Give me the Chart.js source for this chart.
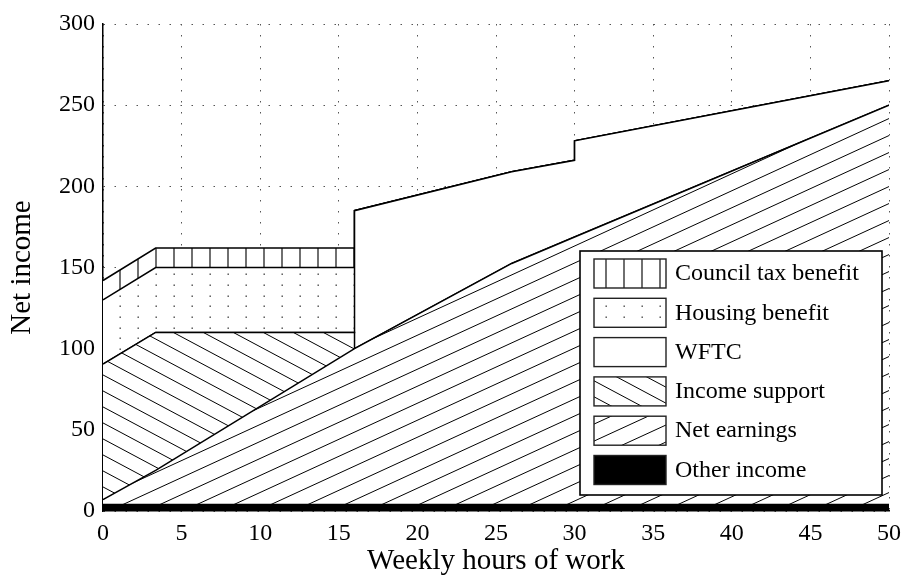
<!DOCTYPE html>
<html>
<head>
<meta charset="utf-8">
<script src="https://cdn.jsdelivr.net/npm/chart.js@4.4.1/dist/chart.umd.min.js"></script>
<style>
  html, body { margin: 0; padding: 0; background: #fff; }
</style>
</head>
<body>
<canvas id="incomeChart" width="901" height="579"></canvas>
<script>
// hours of work at which the schedule changes (16 and 30 appear twice: vertical steps)
const hours = [0, 3.35, 16, 16, 26, 30, 30, 50];

// size of each income component (stacked bottom to top)
const otherIncome    = [4, 4, 4, 4, 4, 4, 4, 4];
const netEarnings    = [3, 21, 96, 96, 148.5, 164.8, 164.8, 246];
const incomeSupport  = [83.5, 85, 10, 0, 0, 0, 0, 0];
const wftc           = [0, 0, 0, 85, 56.5, 47.2, 59.2, 15];
const housingBenefit = [39.5, 40, 40, 0, 0, 0, 0, 0];
const councilTax     = [12, 12, 12, 0, 0, 0, 0, 0];

const seriesNames = ['Other income', 'Net earnings', 'Income support', 'WFTC', 'Housing benefit', 'Council tax benefit'];
const seriesValues = [otherIncome, netEarnings, incomeSupport, wftc, housingBenefit, councilTax];

const xTicks = [0, 5, 10, 15, 20, 25, 30, 35, 40, 45, 50];
const yTicks = [0, 50, 100, 150, 200, 250, 300];

const FONT = "'Liberation Serif', 'Times New Roman', serif";

const canvas = document.getElementById('incomeChart');
const ctx = canvas.getContext('2d');

function makePattern(w, h, draw) {
  const c = document.createElement('canvas');
  c.width = w;
  c.height = h;
  const g = c.getContext('2d');
  g.fillStyle = '#fff';
  g.fillRect(0, 0, w, h);
  g.strokeStyle = '#000';
  g.fillStyle = '#000';
  g.lineWidth = 1;
  draw(g, w, h);
  return ctx.createPattern(c, 'repeat');
}

// vertical bars
const ctbPattern = makePattern(18, 18, (g, w, h) => {
  g.strokeStyle = '#222';
  g.lineWidth = 1.3;
  g.beginPath();
  g.moveTo(12, 0);
  g.lineTo(12, h);
  g.stroke();
});

// small dots
const hbPattern = makePattern(18, 32, (g) => {
  g.fillStyle = '#444';
  [8, 18, 29].forEach(y => g.fillRect(11.5, y - 0.5, 1.4, 1.4));
});

// "\" hatching
const isPattern = makePattern(30, 16, (g, w, h) => {
  g.beginPath();
  for (let k = -1; k <= 1; k++) {
    g.moveTo(0, k * h);
    g.lineTo(w, (k + 1) * h);
  }
  g.stroke();
});

// "/" hatching
const nePattern = makePattern(37, 17, (g, w, h) => {
  g.beginPath();
  for (let k = -1; k <= 1; k++) {
    g.moveTo(0, (k + 1) * h);
    g.lineTo(w, k * h);
  }
  g.stroke();
});

const fills = ['#000', nePattern, isPattern, '#fff', hbPattern, ctbPattern];

// running totals so each area sits on the one below
const running = hours.map(() => 0);
const datasets = seriesValues.map((vals, s) => {
  const pts = hours.map((h, i) => {
    running[i] += vals[i];
    return { x: h, y: running[i] };
  });
  return {
    label: seriesNames[s],
    data: pts,
    borderColor: '#000',
    borderWidth: 1.5,
    backgroundColor: fills[s],
    fill: s === 0 ? 'origin' : '-1',
    pointRadius: 0,
    tension: 0
  };
});

const legendBox = {
  id: 'legendBox',
  afterDatasetsDraw(chart) {
    const { ctx, chartArea } = chart;
    const x0 = chartArea.right - 309;
    const y0 = chartArea.bottom - 260;
    const w = 302, h = 244;
    ctx.save();
    ctx.fillStyle = '#fff';
    ctx.fillRect(x0, y0, w, h);
    ctx.strokeStyle = '#000';
    ctx.lineWidth = 1.6;
    ctx.strokeRect(x0, y0, w, h);

    const items = chart.data.datasets.slice().reverse();
    ctx.font = '24px ' + FONT;
    ctx.textBaseline = 'middle';
    ctx.textAlign = 'left';
    items.forEach((ds, i) => {
      const ry = y0 + 8 + i * 39.3;
      ctx.fillStyle = ds.backgroundColor;
      ctx.fillRect(x0 + 14, ry, 72, 29);
      ctx.lineWidth = 1.4;
      ctx.strokeStyle = '#222';
      ctx.strokeRect(x0 + 14, ry, 72, 29);
      ctx.fillStyle = '#000';
      ctx.fillText(ds.label, x0 + 95, ry + 15);
    });
    ctx.restore();
  }
};

new Chart(ctx, {
  type: 'line',
  data: { datasets },
  options: {
    responsive: false,
    animation: false,
    devicePixelRatio: 1,
    layout: { padding: { top: 24, right: 12, left: 0, bottom: 0 } },
    plugins: {
      legend: { display: false },
      tooltip: { enabled: false }
    },
    scales: {
      x: {
        type: 'linear',
        min: xTicks[0],
        max: xTicks[xTicks.length - 1],
        afterBuildTicks: (scale) => { scale.ticks = xTicks.map(v => ({ value: v })); },
        afterFit: (scale) => {
          scale.height = 68;
          scale.paddingLeft = 0;
          scale.paddingRight = 0;
        },
        grid: { color: '#555', lineWidth: 1, drawTicks: false },
        border: { display: true, color: '#000', width: 1.5, dash: [1.5, 9.5] },
        ticks: { color: '#000', padding: 8, maxRotation: 0, font: { family: FONT, size: 24 } },
        title: {
          display: true,
          text: 'Weekly hours of work',
          color: '#000',
          padding: { top: 0, bottom: 0 },
          font: { family: FONT, size: 29 }
        }
      },
      y: {
        min: yTicks[0],
        max: yTicks[yTicks.length - 1],
        afterBuildTicks: (scale) => { scale.ticks = yTicks.map(v => ({ value: v })); },
        afterFit: (scale) => {
          scale.width = 103;
          scale.paddingTop = 0;
          scale.paddingBottom = 0;
        },
        grid: { color: '#555', lineWidth: 1, drawTicks: false },
        border: { display: true, color: '#000', width: 1.5, dash: [1.5, 9.5] },
        ticks: { color: '#000', padding: 8, font: { family: FONT, size: 24 } },
        title: {
          display: true,
          text: 'Net income',
          color: '#000',
          padding: { top: 5, bottom: 0 },
          font: { family: FONT, size: 29 }
        }
      }
    }
  },
  plugins: [legendBox]
});
</script>
</body>
</html>
